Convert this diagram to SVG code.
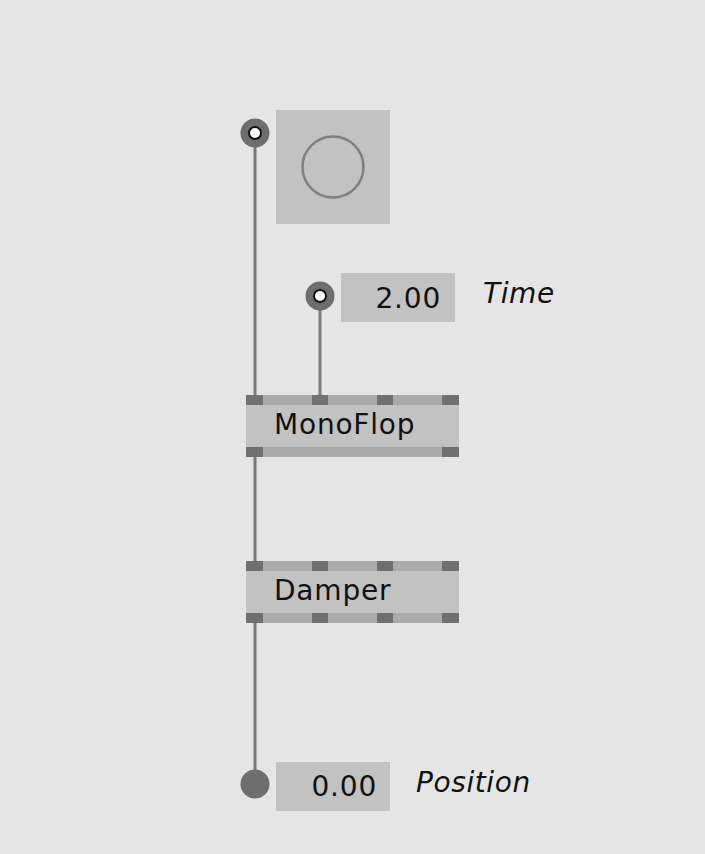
<svg xmlns="http://www.w3.org/2000/svg" width="705" height="854" viewBox="0 0 705 854">
<style>
.bg{fill:#e5e5e5}
.box{fill:#c2c2c2}
.band{fill:#aaaaaa}
.tab{fill:#707070}
.wire{stroke:#7a7a7a;stroke-width:3;fill:none}
.lbl{font-family:"DejaVu Sans",sans-serif;font-size:28px;letter-spacing:0.8px;fill:#111}
.it{font-family:"DejaVu Sans",sans-serif;font-size:28px;letter-spacing:0.6px;font-style:italic;fill:#111}
.ring{fill:#6e6e6e}
.hole{fill:#ffffff;stroke:#111;stroke-width:2}
</style>
<rect class="bg" x="0" y="0" width="705" height="854"/>
<g id="connectors">
<line class="wire" x1="255" y1="133" x2="255" y2="396"/>
<line class="wire" x1="320" y1="296" x2="320" y2="396"/>
<line class="wire" x1="255" y1="456" x2="255" y2="562"/>
<line class="wire" x1="255" y1="622" x2="255" y2="784"/>
</g>
<g id="bang">
<rect class="box" x="276" y="110" width="114" height="114"/>
<circle cx="333" cy="167" r="30.5" fill="none" stroke="#808080" stroke-width="2.5"/>
<circle class="ring" cx="255" cy="133" r="14.5"/>
<circle class="hole" cx="255" cy="133" r="6"/>
</g>
<g id="time">
<rect class="box" x="341" y="273" width="114" height="49"/>
<text class="lbl" x="441" y="308" text-anchor="end">2.00</text>
<text class="it" x="483" y="303">Time</text>
<circle class="ring" cx="320" cy="296" r="14.5"/>
<circle class="hole" cx="320" cy="296" r="6"/>
</g>
<g id="monoflop">
<rect class="box" x="246" y="395" width="213" height="62"/>
<rect class="band" x="246" y="395" width="213" height="10"/>
<rect class="band" x="246" y="447" width="213" height="10"/>
<rect class="tab" x="246" y="395" width="17" height="10"/>
<rect class="tab" x="312" y="395" width="16" height="10"/>
<rect class="tab" x="377" y="395" width="16" height="10"/>
<rect class="tab" x="442" y="395" width="17" height="10"/>
<rect class="tab" x="246" y="447" width="17" height="10"/>
<rect class="tab" x="442" y="447" width="17" height="10"/>
<text class="lbl" x="274" y="434">MonoFlop</text>
</g>
<g id="damper">
<rect class="box" x="246" y="561" width="213" height="62"/>
<rect class="band" x="246" y="561" width="213" height="10"/>
<rect class="band" x="246" y="613" width="213" height="10"/>
<rect class="tab" x="246" y="561" width="17" height="10"/>
<rect class="tab" x="312" y="561" width="16" height="10"/>
<rect class="tab" x="377" y="561" width="16" height="10"/>
<rect class="tab" x="442" y="561" width="17" height="10"/>
<rect class="tab" x="246" y="613" width="17" height="10"/>
<rect class="tab" x="312" y="613" width="16" height="10"/>
<rect class="tab" x="377" y="613" width="16" height="10"/>
<rect class="tab" x="442" y="613" width="17" height="10"/>
<text class="lbl" x="274" y="600">Damper</text>
</g>
<g id="position">
<rect class="box" x="276" y="762" width="114" height="49"/>
<text class="lbl" x="377" y="796" text-anchor="end">0.00</text>
<text class="it" x="416" y="792">Position</text>
<circle class="ring" cx="255" cy="784" r="14.5"/>
</g>
</svg>
